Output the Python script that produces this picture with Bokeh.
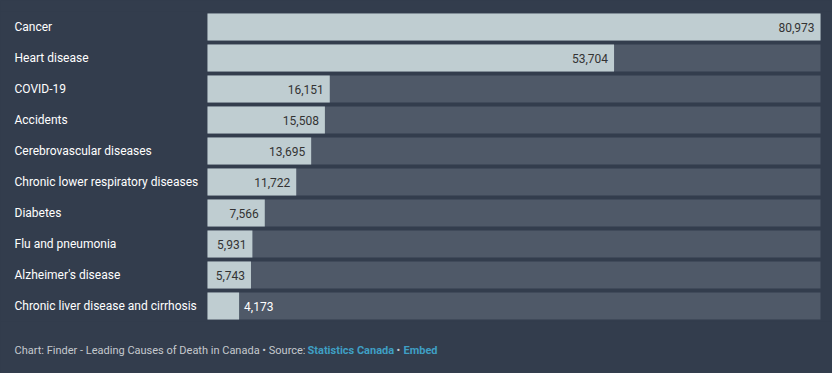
from bokeh.plotting import figure
from bokeh.layouts import column
from bokeh.models import Range1d, FactorRange, ColumnDataSource, Label
from bokeh.core.properties import value
from bokeh.embed import file_html
from bokeh.resources import INLINE

categories = ["Cancer", "Heart disease", "COVID-19", "Accidents",
              "Cerebrovascular diseases", "Chronic lower respiratory diseases",
              "Diabetes", "Flu and pneumonia", "Alzheimer's disease",
              "Chronic liver disease and cirrhosis"]
deaths = [80973, 53704, 16151, 15508, 13695, 11722, 7566, 5931, 5743, 4173]

footer_main = "Chart: Finder - Leading Causes of Death in Canada \u2022 Source:"
footer_source = "Statistics Canada"
footer_sep = "\u2022"
footer_embed = "Embed"

BG = "#333d4d"
TRACK = "#4f5968"
BAR = "#bfcdd1"
FONT = "Roboto"

W = 832
H_MAIN, H_FOOT = 321, 52
LABEL_W = 207      # px reserved for category labels
RIGHT_PAD = 12
bar_px = W - LABEL_W - RIGHT_PAD
vmax = max(deaths)
x_start = -LABEL_W / bar_px * vmax
x_end = vmax + RIGHT_PAD / bar_px * vmax

p = figure(width=W, height=H_MAIN, output_backend="svg", toolbar_location=None,
           x_range=Range1d(x_start, x_end),
           y_range=FactorRange(factors=list(reversed(categories)), range_padding=0),
           min_border_left=0, min_border_right=0, min_border_top=11, min_border_bottom=0,
           background_fill_color=BG, border_fill_color=BG, outline_line_color=None)
p.axis.visible = False
p.grid.visible = False

inside = [v / vmax * bar_px > 40 for v in deaths]
src = ColumnDataSource(dict(
    cat=categories, v=deaths, zero=[0] * len(deaths), mx=[vmax] * len(deaths),
    lx=[x_start] * len(deaths),
))
ins = ColumnDataSource(dict(cat=[c for c, i in zip(categories, inside) if i],
                            v=[v for v, i in zip(deaths, inside) if i],
                            t=[f"{v:,}" for v, i in zip(deaths, inside) if i]))
outs = ColumnDataSource(dict(cat=[c for c, i in zip(categories, inside) if not i],
                             v=[v for v, i in zip(deaths, inside) if not i],
                             t=[f"{v:,}" for v, i in zip(deaths, inside) if not i]))

h = 27 / 31
p.hbar(y="cat", left="zero", right="mx", height=h, source=src, fill_color=TRACK, line_color=None)
p.hbar(y="cat", left="zero", right="v", height=h, source=src, fill_color=BAR, line_color=None)

p.text(x="lx", y="cat", text="cat", source=src, x_offset=14, text_align="left",
       text_baseline="middle", text_color="#ffffff", text_font=value(FONT),
       text_font_size="12px")
p.text(x="v", y="cat", text="t", source=ins, x_offset=-6, text_align="right",
       text_baseline="middle", text_color="#333333", text_font=value(FONT),
       text_font_size="12px")
p.text(x="v", y="cat", text="t", source=outs, x_offset=5, text_align="left",
       text_baseline="middle", text_color="#ffffff", text_font=value(FONT),
       text_font_size="12px")

f = figure(width=W, height=H_FOOT, output_backend="svg", toolbar_location=None,
           x_range=Range1d(0, W), y_range=Range1d(0, H_FOOT),
           min_border=0, background_fill_color=BG, border_fill_color=BG,
           outline_line_color=None)
f.axis.visible = False
f.grid.visible = False
for txt, x, col, weight in [(footer_main, 14, "#c5c9ce", "normal"),
                            (footer_source, 307, "#3f9fc4", "bold"),
                            (footer_sep, 396, "#c5c9ce", "normal"),
                            (footer_embed, 403, "#3f9fc4", "bold")]:
    f.add_layout(Label(x=x, y=23, x_units="screen", y_units="screen", text=txt,
                       text_color=col, text_font=FONT, text_font_size="11px",
                       text_font_style=weight, text_baseline="middle"))

layout = column(p, f, spacing=0)
template = """{% block preamble %}<style>body{background:#333d4d;}</style>{% endblock %}"""
open("out.html", "w").write(file_html(layout, INLINE, template=template))
